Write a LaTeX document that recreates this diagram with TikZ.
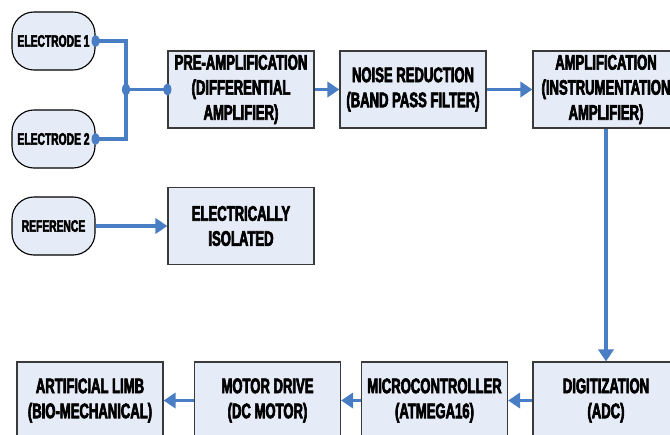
\documentclass[tikz,border=0pt]{standalone}
\usepackage{fontspec}
\newfontfamily\blockfont[FakeStretch=0.62,FakeBold=3]{Liberation Sans}
\usetikzlibrary{arrows.meta}
\definecolor{boxfill}{HTML}{E6ECF7}
\definecolor{wire}{HTML}{4A7EC4}
\definecolor{edge}{HTML}{3A3A3A}

\begin{document}
\begin{tikzpicture}[x=0.025cm, y=-0.025cm,
  block/.style={draw=edge, line width=0.8pt, fill=boxfill, minimum width=3.65cm, minimum height=1.925cm,
    align=center, inner sep=0pt, font={\blockfont\bfseries\fontsize{15pt}{17.8pt}\selectfont}},
  probe/.style={draw=black, line width=0.8pt, fill=boxfill, rounded corners=0.55cm, minimum width=2.075cm,
    minimum height=1.45cm, inner sep=0pt, font={\blockfont\bfseries\fontsize{11.8pt}{13pt}\selectfont}},
  link/.style={draw=wire, line width=2.6pt},
  flow/.style={link, -{Triangle[length=0.3cm, width=0.38cm]}}]

\clip (0,0) rectangle (670,434);

% input electrodes
\node[probe] (e1) at (53.5,41) {ELECTRODE 1};
\node[probe] (e2) at (53.5,139) {ELECTRODE 2};
\node[probe] (ref) at (53.5,226) {REFERENCE};

% top row
\node[block] (pre) at (241,89.5) {PRE-AMPLIFICATION\\(DIFFERENTIAL\\AMPLIFIER)};
\node[block] (noise) at (413,89.5) {NOISE REDUCTION\\(BAND PASS FILTER)};
\node[block] (amp) at (606,89.5) {AMPLIFICATION\\(INSTRUMENTATION\\AMPLIFIER)};
\node[block] (iso) at (241,226) {ELECTRICALLY\\ISOLATED};

% bottom row
\node[block] (dig) at (606,400.5) {DIGITIZATION\\(ADC)};
\node[block] (mcu) at (434.5,400.5) {MICROCONTROLLER\\(ATMEGA16)};
\node[block] (motor) at (267.5,400.5) {MOTOR DRIVE\\(DC MOTOR)};
\node[block] (limb) at (90,400.5) {ARTIFICIAL LIMB\\(BIO-MECHANICAL)};

\coordinate (join) at (126,89.5);

\draw[link] (e1.east) -| (join) |- (e2.east);
\draw[link] (join) -- (pre.west);
\foreach \p in {e1.east, e2.east, join, pre.west}
  \fill[wire] (\p) ellipse [x radius=0.1cm, y radius=0.15cm];

\draw[flow] (pre) -- (noise);
\draw[flow] (noise) -- (amp);
\draw[flow] (ref) -- (iso);
\draw[flow] (amp) -- (dig);
\draw[flow] (dig) -- (mcu);
\draw[flow] (mcu) -- (motor);
\draw[flow] (motor) -- (limb);

\end{tikzpicture}
\end{document}
